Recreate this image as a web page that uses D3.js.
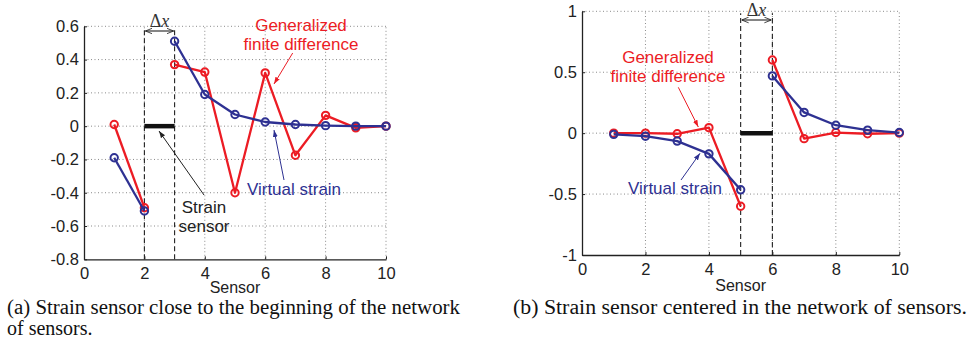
<!DOCTYPE html>
<html><head><meta charset="utf-8">
<script src="https://cdn.jsdelivr.net/npm/d3@7"></script>
<style>body{margin:0;background:#fff}svg{display:block}</style>
</head><body>
<svg id="chart" width="970" height="343"></svg>
<script>
// ---- data ----
const sensors = [1,2,3,4,5,6,7,8,9,10];
const xTicks = [0,2,4,6,8,10];
// panel (a)
const aGFD     = [0.01,-0.49,0.37,0.325,-0.40,0.32,-0.175,0.065,-0.01,0.0];
const aVirtual = [-0.19,-0.51,0.51,0.19,0.07,0.025,0.01,0.003,0.0,0.0];
const aSensorSpan = [2,3];
const aYTicks = [0.6,0.4,0.2,0,-0.2,-0.4,-0.6,-0.8];
// panel (b)
const bGFD     = [0.0,0.0,-0.005,0.045,-0.60,0.60,-0.045,0.005,-0.005,0.0];
const bVirtual = [-0.01,-0.025,-0.065,-0.17,-0.465,0.47,0.17,0.065,0.025,0.005];
const bSensorSpan = [5,6];
const bYTicks = [1,0.5,0,-0.5,-1];

const RED = "#ec1c24", BLUE = "#2e3192";
const SANS = "'Liberation Sans',Arial,sans-serif", SERIF = "'Liberation Serif','Times New Roman',serif";
const svg = d3.select("#chart");
const defs = svg.append("defs");
function mk(id, color){
  defs.append("marker").attr("id",id).attr("viewBox","0 0 10 10").attr("refX",10).attr("refY",5)
    .attr("markerWidth",7).attr("markerHeight",7).attr("orient","auto-start-reverse")
    .attr("markerUnits","userSpaceOnUse")
    .append("path").attr("d","M0,1.5 L10,5 L0,8.5 Z").attr("fill",color);
}
mk("arK","#222"); mk("arR",RED); mk("arB",BLUE);
defs.append("marker").attr("id","dx").attr("viewBox","0 0 10 10").attr("refX",10).attr("refY",5)
  .attr("markerWidth",7).attr("markerHeight",7).attr("orient","auto-start-reverse")
  .attr("markerUnits","userSpaceOnUse")
  .append("path").attr("d","M0,1 L10,5 L0,9").attr("fill","none").attr("stroke","#222").attr("stroke-width",1.2);

function panel(cfg){
  const x = d3.scaleLinear().domain([0,10]).range(cfg.xr);
  const y = d3.scaleLinear().domain(cfg.yd).range(cfg.yr);
  const g = svg.append("g");
  // grid
  g.selectAll(".gx").data(xTicks.filter(t=>t>0)).join("line")
    .attr("x1",d=>x(d)).attr("x2",d=>x(d)).attr("y1",y.range()[0]).attr("y2",y.range()[1])
    .attr("stroke","#8a8a8a").attr("stroke-width",1).attr("stroke-dasharray","1,2.5");
  g.selectAll(".gy").data(cfg.yt.filter(t=>t!==cfg.yd[0])).join("line")
    .attr("x1",x(0)).attr("x2",x(10)).attr("y1",d=>y(d)).attr("y2",d=>y(d))
    .attr("stroke","#8a8a8a").attr("stroke-width",1).attr("stroke-dasharray","1,2.5");
  // axes
  const ax = g.append("g").attr("transform",`translate(0,${y.range()[0]})`)
    .call(d3.axisBottom(x).tickValues(xTicks).tickSizeInner(-3).tickSizeOuter(0).tickPadding(8).tickFormat(d3.format("d")));
  const ay = g.append("g").attr("transform",`translate(${x(0)},0)`)
    .call(d3.axisLeft(y).tickValues(cfg.yt).tickSizeInner(-3).tickSizeOuter(0).tickPadding(5).tickFormat(cfg.fmt));
  [ax,ay].forEach(a=>{
    a.select(".domain").attr("stroke","#222").attr("stroke-width",1.3);
    a.selectAll(".tick line").attr("stroke","#222");
    a.selectAll("text").attr("font-family",SANS).attr("font-size",16.5).attr("fill","#222");
  });
  // sensor dashed lines
  g.selectAll(".sl").data(cfg.span).join("line")
    .attr("x1",d=>x(d)).attr("x2",d=>x(d)).attr("y1",y.range()[0]).attr("y2",y(cfg.yd[1])+2)
    .attr("stroke","#222").attr("stroke-width",1.1).attr("stroke-dasharray","5,3");
  // sensor bar
  g.append("line").attr("x1",x(cfg.span[0])).attr("x2",x(cfg.span[1])).attr("y1",y(0)).attr("y2",y(0))
    .attr("stroke","#111").attr("stroke-width",4.5);
  // delta x
  g.append("line").attr("x1",x(cfg.span[0])+1).attr("x2",x(cfg.span[1])-1).attr("y1",cfg.dxY).attr("y2",cfg.dxY)
    .attr("stroke","#222").attr("stroke-width",1.1).attr("marker-start","url(#dx)").attr("marker-end","url(#dx)");
  const t = g.append("text").attr("x",(x(cfg.span[0])+x(cfg.span[1]))/2).attr("y",cfg.dxY-4)
    .attr("text-anchor","middle").attr("font-family",SERIF).attr("font-size",18).attr("fill","#333");
  t.append("tspan").text("Δ");
  t.append("tspan").attr("font-style","italic").text("x");
  // series
  const split = sensors.indexOf(cfg.span[0])+1;
  const seg = vals => [sensors.slice(0,split).map((s,i)=>[s,vals[i]]), sensors.slice(split).map((s,i)=>[s,vals[i+split]])];
  const line = d3.line().x(d=>x(d[0])).y(d=>y(d[1]));
  [[cfg.gfd,RED],[cfg.vir,BLUE]].forEach(([vals,col])=>{
    g.selectAll(null).data(seg(vals)).join("path").attr("d",line).attr("fill","none")
      .attr("stroke",col).attr("stroke-width",2.3).attr("stroke-linejoin","round");
    g.selectAll(null).data(sensors.map((s,i)=>[s,vals[i]])).join("circle")
      .attr("cx",d=>x(d[0])).attr("cy",d=>y(d[1])).attr("r",3.7)
      .attr("fill","none").attr("stroke",col).attr("stroke-width",2);
  });
  // x label
  g.append("text").attr("x",(x(0)+x(10))/2).attr("y",cfg.xlY).attr("text-anchor","middle")
    .attr("font-family",SANS).attr("font-size",16).attr("fill","#222").text("Sensor");
  // annotations
  cfg.notes.forEach(n=>{
    const tx = g.append("text").attr("x",n.x).attr("y",n.y).attr("text-anchor","middle")
      .attr("font-family",SANS).attr("font-size",17).attr("fill",n.c);
    n.lines.forEach((l,i)=>tx.append("tspan").attr("x",n.x).attr("dy",i?19:0).text(l));
    g.append("line").attr("x1",n.a[0]).attr("y1",n.a[1]).attr("x2",n.a[2]).attr("y2",n.a[3])
      .attr("stroke",n.c).attr("stroke-width",1).attr("marker-end",`url(#${n.m})`);
  });
  // caption
  const cap = g.append("text").attr("x",cfg.capX).attr("y",314)
    .attr("font-family",SERIF).attr("font-size",20).attr("fill","#111");
  cfg.cap.forEach((l,i)=>{
    const ts = cap.append("tspan").attr("x",cfg.capX).attr("dy",i?21:0).text(l);
    if(cfg.capW[i]) ts.attr("textLength",cfg.capW[i]).attr("lengthAdjust","spacingAndGlyphs");
  });
}

const fmtA = d => d===0 ? "0" : d3.format(".1f")(d).replace("−","-");
const fmtB = d => d===0 ? "0" : String(d).replace("−","-");

panel({xr:[84,386], yd:[-0.8,0.6], yr:[259.3,26.3], yt:aYTicks, fmt:fmtA,
  gfd:aGFD, vir:aVirtual, span:aSensorSpan, dxY:31, xlY:293,
  notes:[
    {x:301,y:31,lines:["Generalized","finite difference"],c:RED,m:"arR",a:[292.7,53,274,84]},
    {x:294,y:195,lines:["Virtual strain"],c:BLUE,m:"arB",a:[284,180,274,130]},
    {x:204,y:213,lines:["Strain","sensor"],c:"#222",m:"arK",a:[204,195,159,131]}
  ],
  capX:7, cap:["(a) Strain sensor close to the beginning of the network","of sensors."], capW:[453,null]});

panel({xr:[582,899.3], yd:[-1,1], yr:[255,11.3], yt:bYTicks, fmt:fmtB,
  gfd:bGFD, vir:bVirtual, span:bSensorSpan, dxY:20, xlY:291,
  notes:[
    {x:668,y:63,lines:["Generalized","finite difference"],c:RED,m:"arR",a:[678.3,87.3,698.3,127]},
    {x:675,y:194,lines:["Virtual strain"],c:BLUE,m:"arB",a:[681,180,700,153.3]}
  ],
  capX:513, cap:["(b) Strain sensor centered in the network of sensors."], capW:[454]});
</script>
</body></html>
